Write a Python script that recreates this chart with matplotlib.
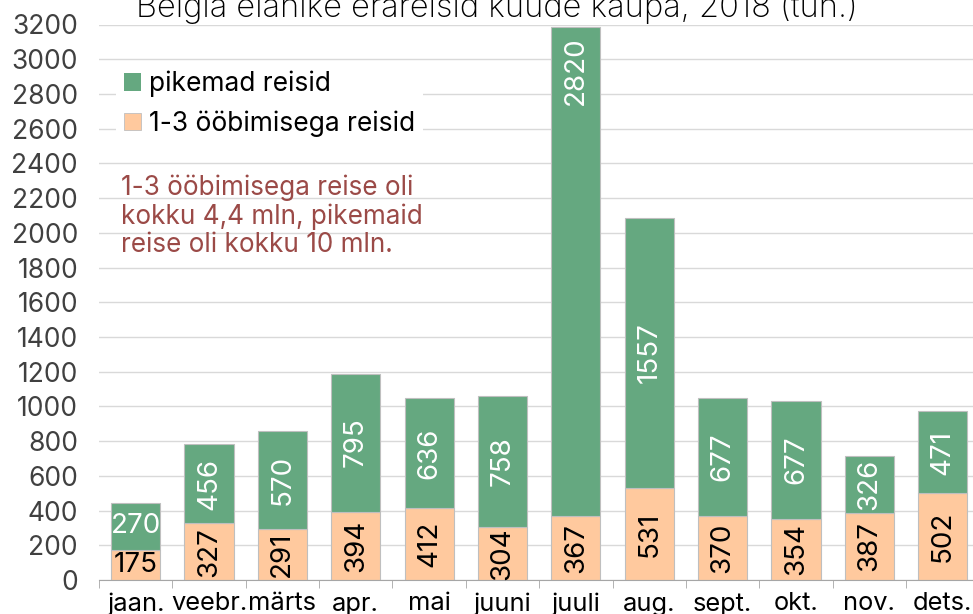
import numpy as np
import matplotlib.pyplot as plt
from matplotlib.patches import Patch

# Belgia elanike erareisid kuude kaupa, 2018 (tuh.)
months = ['jaan.', 'veebr.', 'märts', 'apr.', 'mai', 'juuni', 'juuli',
          'aug.', 'sept.', 'okt.', 'nov.', 'dets.']
short_trips = [175, 327, 291, 394, 412, 304, 367, 531, 370, 354, 387, 502]
long_trips = [270, 456, 570, 795, 636, 758, 2820, 1557, 677, 677, 326, 471]

green = '#65a880'
peach = '#ffc99e'
note_color = '#9b4a47'

plt.rcParams['font.family'] = ['Inter', 'DejaVu Sans']

fig = plt.figure(figsize=(9.73, 6.14), dpi=100)
ax = fig.add_axes([98.9 / 973, 34 / 614, 880.6 / 973, 555.5 / 614])

x = np.arange(len(months))
ax.bar(x, short_trips, width=0.67, color=peach, edgecolor='#bfbfbf', linewidth=0.8, zorder=2)
ax.bar(x, long_trips, width=0.67, bottom=short_trips, color=green,
       edgecolor='#bfbfbf', linewidth=0.8, zorder=2)

# väärtused tulpades
for i in x:
    s, l = short_trips[i], long_trips[i]
    rot = 0 if i == 0 else 90
    ax.text(i, s / 2, str(s), ha='center', va='center', rotation=rot,
            fontsize=20, color='black', zorder=3)
    if months[i] == 'juuli':
        ax.annotate(str(l), (i, s + l), xytext=(0, -7), textcoords='offset points',
                    ha='center', va='top', rotation=90, fontsize=20, color='white', zorder=3)
    else:
        ax.text(i, s + l / 2, str(l), ha='center', va='center', rotation=rot,
                fontsize=20, color='white', zorder=3)

ax.set_xlim(-0.5, len(months) - 0.5)
ax.set_ylim(0, 3200)
ax.set_yticks(range(0, 3201, 200))
ax.set_xticks(x)
ax.set_xticklabels(months, fontsize=18.3)
ax.set_xticks(np.arange(-0.5, len(months), 1), minor=True)
ax.tick_params(axis='x', which='major', length=0, pad=9)
ax.tick_params(axis='x', which='minor', length=6, color='#a6a6a6')
ax.tick_params(axis='y', length=0, pad=15, labelsize=19, labelcolor='#404040')
ax.grid(axis='y', color='#d9d9d9', linewidth=1, zorder=0)
ax.set_axisbelow(True)
for side in ['left', 'right', 'top']:
    ax.spines[side].set_visible(False)
ax.spines['bottom'].set_color('#a6a6a6')

fig.text(497 / 973, 597 / 614, 'Belgia elanike erareisid kuude kaupa, 2018 (tuh.)',
         fontsize=23.5, fontweight='light', ha='center', va='baseline')

handles = [Patch(facecolor=green, edgecolor='none'),
           Patch(facecolor=peach, edgecolor='#bfbfbf', linewidth=0.6)]
leg = ax.legend(handles, ['pikemad reisid', '1-3 ööbimisega reisid'],
                loc='upper left', bbox_to_anchor=(0.004, 0.955), fontsize=19,
                frameon=True, facecolor='white', edgecolor='none', framealpha=1,
                fancybox=False, handlelength=0.65, handleheight=0.65,
                handletextpad=0.3, labelspacing=0.5, borderpad=0.3)

ax.text(0.025, 0.73, '1-3 ööbimisega reise oli\nkokku 4,4 mln, pikemaid\nreise oli kokku 10 mln.',
        transform=ax.transAxes, ha='left', va='top', fontsize=18.8,
        color=note_color, linespacing=1.1)

fig.savefig('out.png', dpi=100)
